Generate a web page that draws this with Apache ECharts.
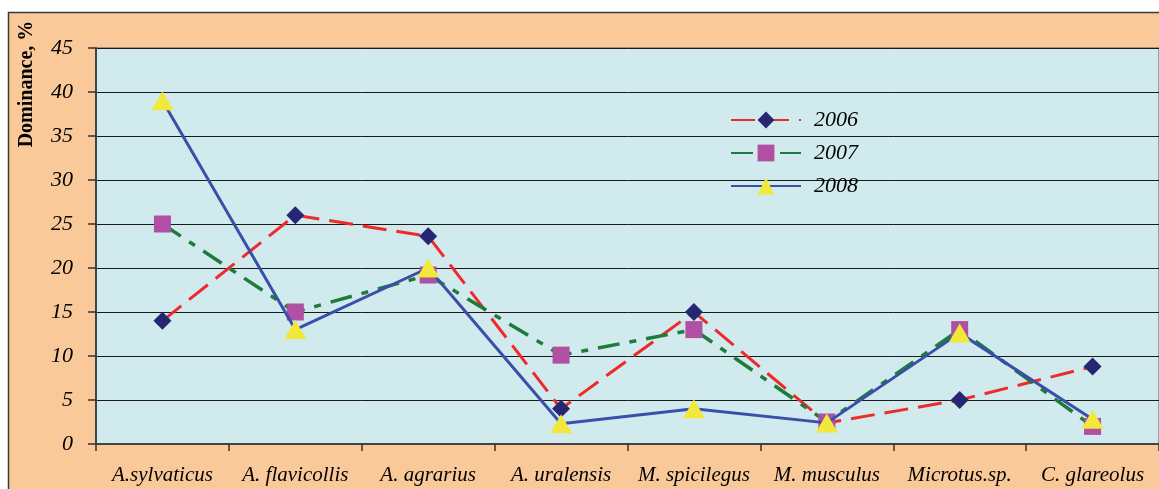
<!DOCTYPE html>
<html><head><meta charset="utf-8">
<script src="https://cdn.jsdelivr.net/npm/echarts@6/dist/echarts.min.js"></script>
<style>html,body{margin:0;padding:0;background:#fff}#c{width:1159px;height:489px}</style>
</head><body><div id="c"></div>
<script>
const categories = ['A.sylvaticus','A. flavicollis','A. agrarius','A. uralensis','M. spicilegus','M. musculus','Microtus.sp.','C. glareolus'];
const s2006 = [14, 26, 23.6, 4, 15, 2.4, 5, 8.8];
const s2007 = [25, 15, 19.2, 10.1, 13, 2.5, 13, 2];
const s2008 = [39, 13, 20, 2.3, 4, 2.4, 12.6, 2.8];
const yTicks = [0,5,10,15,20,25,30,35,40,45];

const serif = '"Liberation Serif","DejaVu Serif",serif';
const chart = echarts.init(document.getElementById('c'));
chart.setOption({
  backgroundColor: '#ffffff',
  animation: false,
  graphic: [
    {type:'rect', z:-10, shape:{x:8.5,y:12.5,width:1200,height:520}, style:{fill:'#F9C99A', stroke:'#3a3a3a', lineWidth:1.5}},
    {type:'text', x:27, y:84, rotation:Math.PI/2, style:{text:'Dominance, %', font:'bold 20px '+serif, fill:'#000', align:'center', verticalAlign:'middle'}}
  ],
  grid: {left:96, top:48, width:1072, height:396, show:true, backgroundColor:'#D1EAEE', borderColor:'#555', borderWidth:1},
  legend: {
    orient:'vertical', left:730, top:109, padding:0, itemWidth:70, itemHeight:21, itemGap:11,
    textStyle:{fontFamily:serif, fontStyle:'italic', fontSize:22, color:'#000', lineHeight:21, padding:[0,0,0,8]},
    data:['2006','2007','2008']
  },
  xAxis: {
    type:'category', data:categories, boundaryGap:true,
    axisLine:{lineStyle:{color:'#444', width:2}},
    axisTick:{show:true, length:7, lineStyle:{color:'#333', width:1.5}},
    axisLabel:{fontFamily:serif, fontStyle:'italic', fontSize:21, color:'#000', margin:21, interval:0}
  },
  yAxis: {
    type:'value', min:0, max:45, interval:5,
    axisLine:{show:true, lineStyle:{color:'#444', width:2}},
    axisTick:{show:true, length:8, lineStyle:{color:'#333', width:1.5}},
    axisLabel:{fontFamily:serif, fontStyle:'italic', fontSize:22, color:'#000', margin:23,
      formatter: v => yTicks.includes(v) ? String(v) : ''},
    splitLine:{lineStyle:{color:'#1a1a1a', width:1}}
  },
  series: [
    {name:'2006', type:'line', data:s2006, symbol:'diamond', symbolSize:[18,18],
     lineStyle:{color:'#EE2A2A', width:3, type:[24,10]}, itemStyle:{color:'#262673'}, z:2},
    {name:'2007', type:'line', data:s2007, symbol:'rect', symbolSize:17,
     lineStyle:{color:'#1E7B3A', width:3.5, type:[22,10,7,10]}, itemStyle:{color:'#B04FA3'}, z:3},
    {name:'2008', type:'line', data:s2008, symbol:'triangle', symbolSize:[22,19],
     lineStyle:{color:'#3A4FA8', width:3}, itemStyle:{color:'#F1E83A'}, z:4}
  ]
});
</script></body></html>
